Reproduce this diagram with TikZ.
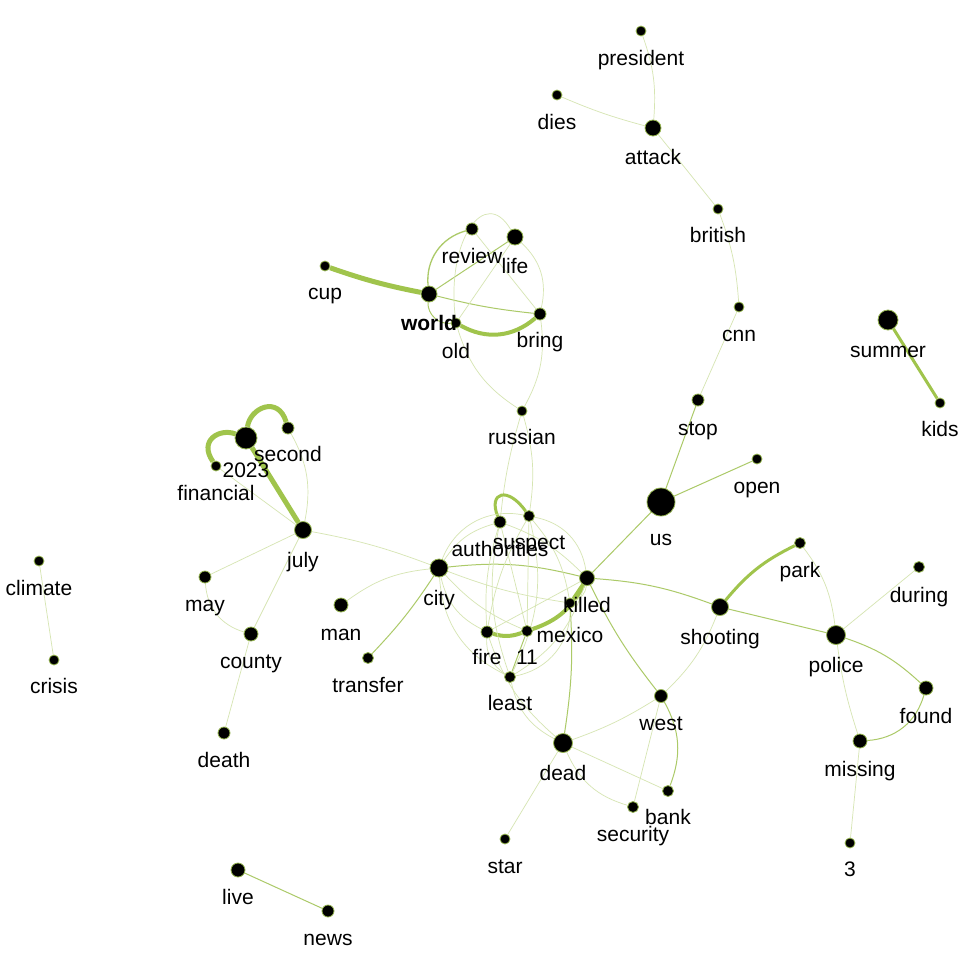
\documentclass[tikz,border=0pt]{standalone}
\usepackage{fontspec}
\setmainfont{Liberation Sans}
\pgfdeclarelayer{back}
\pgfdeclarelayer{bg}
\pgfsetlayers{back,bg,main}
\definecolor{strongg}{RGB}{160,196,76}
\definecolor{midg}{RGB}{172,202,104}
\definecolor{lightg}{RGB}{214,229,178}
\definecolor{dotc}{RGB}{150,182,80}
\tikzset{
  dot/.style={circle, fill=black, draw=dotc, line width=0.8pt, inner sep=0pt},
  lbl/.style={anchor=base, inner sep=0pt, font=\fontsize{21}{21}\selectfont},
  el/.style={draw=lightg, line width=0.7pt},
  em/.style={draw=midg, line width=1pt},
  e3/.style={draw=strongg, line width=3pt},
  e4/.style={draw=strongg, line width=4pt},
  e5/.style={draw=strongg, line width=5pt},
}
\newcommand\wn[4]{\node[dot, minimum size=#4pt] (#1) at (#2pt,-#3pt) {};}
\newcommand\wl[5][]{\node[lbl,#1] (#2-l) at (#3pt,-#4pt) {#5};}
\begin{document}
\begin{tikzpicture}
\begin{pgfonlayer}{back}
\fill[white] (0,0) rectangle (972pt,-972pt);
\end{pgfonlayer}
\useasboundingbox (0,0) rectangle (972pt,-972pt);
% nodes
\wn{president}{641}{31}{10}
\wn{dies}{557}{95}{10}
\wn{attack}{653}{128}{16}
\wn{british}{718}{209}{10}
\wn{cnn}{739}{307}{10}
\wn{stop}{698}{400}{12}
\wn{open}{757}{459}{10}
\wn{us}{661}{502}{28}
\wn{summer}{888}{320}{20}
\wn{kids}{940}{403}{10}
\wn{review}{472}{229}{12}
\wn{life}{515}{237}{16}
\wn{cup}{325}{266}{10}
\wn{world}{429}{294}{16}
\wn{old}{456}{323}{10}
\wn{bring}{540}{314}{12}
\wn{russian}{522}{411}{10}
\wn{y2023}{246}{438}{22}
\wn{second}{288}{428}{12}
\wn{financial}{216}{466}{10}
\wn{july}{303}{530}{17}
\wn{climate}{39}{561}{10}
\wn{crisis}{54}{660}{10}
\wn{may}{205}{577}{12}
\wn{county}{251}{634}{14}
\wn{death}{224}{733}{12}
\wn{man}{341}{605}{14}
\wn{transfer}{368}{658}{11}
\wn{city}{439}{568}{18}
\wn{authorities}{500}{522}{12}
\wn{suspect}{529}{516}{11}
\wn{killed}{587}{578}{15}
\wn{mexico}{570}{603}{10}
\wn{fire}{487}{632}{12}
\wn{eleven}{527}{631}{11}
\wn{least}{510}{677}{11}
\wn{dead}{563}{743}{19}
\wn{west}{661}{696}{13}
\wn{shooting}{720}{607}{17}
\wn{park}{800}{543}{11}
\wn{during}{919}{567}{11}
\wn{police}{836}{635}{19}
\wn{found}{926}{688}{14}
\wn{missing}{860}{741}{14}
\wn{three}{850}{843}{10}
\wn{bank}{668}{791}{11}
\wn{security}{633}{807}{11}
\wn{star}{505}{839}{10}
\wn{live}{238}{870}{14}
\wn{news}{328}{911}{12}
% edges
\begin{pgfonlayer}{bg}
\draw[el] (president) to[bend left=12] (attack);
\draw[el] (dies) to[bend right=4] (attack);
\draw[el] (attack) to (british);
\draw[el] (british) to[bend left=8] (cnn);
\draw[el] (cnn) to (stop);
\draw[em] (stop) to (us);
\draw[em] (us) to (open);
\draw[em] (us) to (killed);
\draw[e3] (summer) to (kids);
\draw[e5] (cup) to[bend right=4] (world);
\draw[em, line width=1.3pt] (world) to[bend left=40] (review);
\draw[em] (world) to (life);
\draw[em] (world) to[bend right=4] (bring);
\draw[em] (world) to[bend right=50] (old);
\draw[e4] (old) to[bend right=35] (bring);
\draw[el] (review) to (bring);
\draw[el] (old) to (life);
\draw[el] (old) .. controls (446pt,-240pt) and (485pt,-185pt) .. (life);
\draw[el] (life) to[bend left=30] (bring);
\draw[el] (old) to[bend right=20] (russian);
\draw[el] (bring) to[bend left=18] (russian);
\draw[el] (russian) to[bend right=5] (authorities);
\draw[el] (russian) to[bend left=12] (suspect);
\draw[e3] (authorities) .. controls (488pt,-492pt) and (508pt,-486pt) .. (suspect);
\draw[e5] (y2023) .. controls (250pt,-408pt) and (278pt,-395pt) .. (second);
\draw[e5] (y2023) .. controls (220pt,-428pt) and (198pt,-440pt) .. (financial);
\draw[e5] (y2023) to (july);
\draw[el] (second) to[bend left=20] (july);
\draw[el] (financial) to (july);
\draw[el] (july) to[bend left=5] (city);
\draw[el] (july) to (may);
\draw[el] (july) to (county);
\draw[el] (may) to[bend right=35] (county);
\draw[el] (county) to (death);
\draw[el] (climate) to (crisis);
\draw[em] (live) to (news);
\draw[el] (city) to[bend right=15] (man);
\draw[em] (city) to[bend left=5] (transfer);
\draw[em] (city) to[bend left=10] (killed);
\draw[em] (killed) to[bend left=8] (shooting);
\draw[em] (shooting) to (police);
\draw[e3] (shooting) to[bend left=12] (park);
\draw[el] (park) to[bend left=15] (police);
\draw[el] (police) to (during);
\draw[em] (police) to[bend left=12] (found);
\draw[el] (police) to[bend right=5] (missing);
\draw[em] (missing) to[bend right=35] (found);
\draw[el] (missing) to (three);
\draw[el] (shooting) to[bend left=12] (west);
\draw[em] (killed) to[bend right=6] (west);
\draw[el] (west) to[bend left=6] (dead);
\draw[el] (west) to (security);
\draw[em] (west) to[bend left=25] (bank);
\draw[el] (dead) to (bank);
\draw[el] (dead) to[bend right=25] (security);
\draw[el] (dead) to (star);
\draw[el] (least) to[bend right=25] (dead);
\draw[el] (fire) to[bend right=15] (dead);
\draw[em] (mexico) to[bend left=6] (dead);
\draw[em] (eleven) to (least);
\draw[e4] (fire) to[bend right=18] (eleven);
\draw[e4] (eleven) to[bend right=22] (killed);
\draw[e3] (mexico) to (killed);
% central light web
\draw[el] (city) to[bend left=20] (authorities);
\draw[el] (city) to[bend left=40] (suspect);
\draw[el] (city) to[bend right=25] (fire);
\draw[el] (city) to[bend right=12] (eleven);
\draw[el] (city) to[bend right=6] (mexico);
\draw[el] (city) to[bend right=30] (least);
\draw[el] (authorities) to[bend left=12] (killed);
\draw[el] (authorities) to[bend right=10] (fire);
\draw[el] (authorities) to (eleven);
\draw[el] (authorities) to[bend right=15] (least);
\draw[el] (suspect) to[bend left=35] (killed);
\draw[el] (suspect) to[bend right=10] (fire);
\draw[el] (suspect) to (eleven);
\draw[el] (suspect) to[bend left=15] (mexico);
\draw[el] (suspect) to[bend left=20] (least);
\draw[el] (fire) to (killed);
\draw[el] (fire) to[bend right=30] (least);
\draw[el] (least) to[bend right=20] (killed);
\draw[el] (least) to[bend right=40] (mexico);
\draw[el] (killed) to[bend left=30] (mexico);
\end{pgfonlayer}
% labels
\wl{president}{641}{65}{president}
\wl{dies}{557}{129}{dies}
\wl{attack}{653}{164}{attack}
\wl{british}{718}{242}{british}
\wl{cnn}{739}{341}{cnn}
\wl{stop}{698}{435}{stop}
\wl{open}{757}{493}{open}
\wl{us}{661}{545}{us}
\wl{summer}{888}{357}{summer}
\wl{kids}{940}{436}{kids}
\wl{review}{472}{263}{review}
\wl{life}{515}{273}{life}
\wl{cup}{325}{299}{cup}
\wl[font=\fontsize{21}{21}\selectfont\bfseries]{world}{429}{330}{world}
\wl{old}{456}{358}{old}
\wl{bring}{540}{347}{bring}
\wl{russian}{522}{444}{russian}
\wl{y2023}{246}{477}{2023}
\wl{second}{288}{461}{second}
\wl{financial}{216}{500}{financial}
\wl{july}{303}{567}{july}
\wl{climate}{39}{595}{climate}
\wl{crisis}{54}{693}{crisis}
\wl{may}{205}{611}{may}
\wl{county}{251}{668}{county}
\wl{death}{224}{767}{death}
\wl{man}{341}{640}{man}
\wl{transfer}{368}{692}{transfer}
\wl{city}{439}{605}{city}
\wl{authorities}{500}{556}{authorities}
\wl{suspect}{529}{549}{suspect}
\wl{killed}{587}{612}{killed}
\wl{mexico}{570}{642}{mexico}
\wl{fire}{487}{664}{fire}
\wl{eleven}{527}{664}{11}
\wl{least}{510}{710}{least}
\wl{dead}{563}{780}{dead}
\wl{west}{661}{730}{west}
\wl{shooting}{720}{644}{shooting}
\wl{park}{800}{577}{park}
\wl{during}{919}{602}{during}
\wl{police}{836}{672}{police}
\wl{found}{926}{723}{found}
\wl{missing}{860}{776}{missing}
\wl{three}{850}{876}{3}
\wl{bank}{668}{824}{bank}
\wl{security}{633}{841}{security}
\wl{star}{505}{873}{star}
\wl{live}{238}{904}{live}
\wl{news}{328}{945}{news}
\end{tikzpicture}
\end{document}
